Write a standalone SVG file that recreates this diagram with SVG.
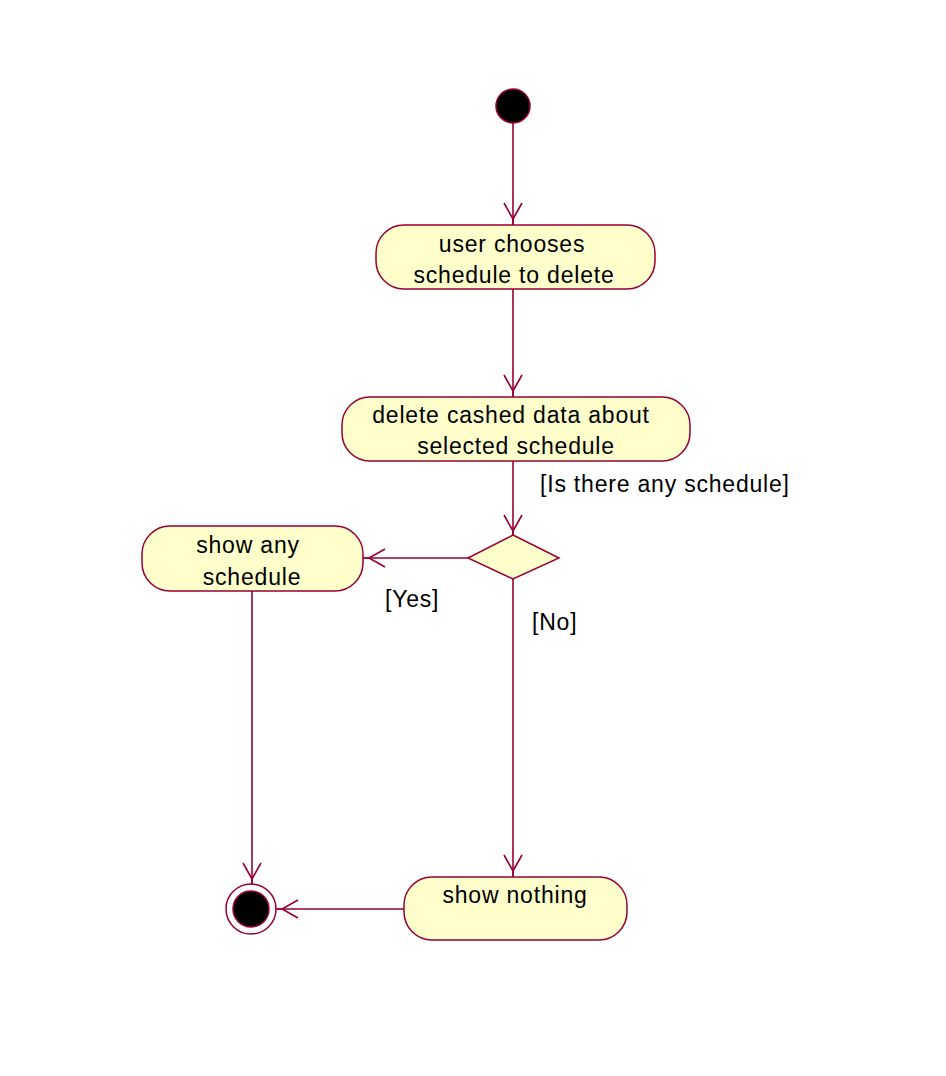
<svg xmlns="http://www.w3.org/2000/svg" width="946" height="1076" viewBox="0 0 946 1076">
<style>
.act{fill:#FFFFCC;stroke:#990033;stroke-width:1.5}
.ln{fill:none;stroke:#990033;stroke-width:1.6}
.t{font-family:"Liberation Sans",Arial,sans-serif;font-size:23px;letter-spacing:0.8px;fill:#000;text-anchor:middle}
.g{font-family:"Liberation Sans",Arial,sans-serif;font-size:23px;letter-spacing:0.8px;fill:#000}
</style>
<defs>
<marker id="arr" markerUnits="userSpaceOnUse" markerWidth="30" markerHeight="30" viewBox="-20 -12 30 24" refX="6" refY="0" orient="auto" overflow="visible">
<path d="M-16,-9 L0,0 L-16,9 M0,0 L6,0" fill="none" stroke="#990033" stroke-width="1.6"/>
</marker>
</defs>
<rect width="946" height="1076" fill="#fff"/>
<g id="connectors">
<line class="ln" x1="513" y1="123" x2="513" y2="225" marker-end="url(#arr)"/>
<line class="ln" x1="513" y1="289" x2="513" y2="397" marker-end="url(#arr)"/>
<line class="ln" x1="513" y1="461" x2="513" y2="537" marker-end="url(#arr)"/>
<line class="ln" x1="468" y1="558" x2="363" y2="558" marker-end="url(#arr)"/>
<line class="ln" x1="513" y1="579" x2="513" y2="877" marker-end="url(#arr)"/>
<line class="ln" x1="252" y1="591" x2="252" y2="885" marker-end="url(#arr)"/>
<line class="ln" x1="404" y1="909" x2="276" y2="909" marker-end="url(#arr)"/>
<text class="g" x="540" y="492">[Is there any schedule]</text>
<text class="g" x="385" y="607">[Yes]</text>
<text class="g" x="532" y="630">[No]</text>
</g>
<g id="start">
<circle cx="513" cy="106" r="17" fill="#000" stroke="#990033" stroke-width="1.5"/>
</g>
<g id="n1">
<rect class="act" x="376" y="225" width="279" height="64" rx="28" ry="28"/>
<text class="t" x="512" y="252">user chooses</text>
<text class="t" x="514" y="283">schedule to delete</text>
</g>
<g id="n2">
<rect class="act" x="342" y="397" width="348" height="64" rx="28" ry="28"/>
<text class="t" x="511" y="423">delete cashed data about</text>
<text class="t" x="516" y="454">selected schedule</text>
</g>
<g id="decision">
<polygon class="act" points="513,535 559,558 513,579 468,558"/>
</g>
<g id="n3">
<rect class="act" x="142" y="526" width="221" height="65" rx="28" ry="28"/>
<text class="t" x="248" y="553">show any</text>
<text class="t" x="252" y="585">schedule</text>
</g>
<g id="n4">
<rect class="act" x="404" y="877" width="223" height="63" rx="28" ry="28"/>
<text class="t" x="515" y="903">show nothing</text>
</g>
<g id="end">
<circle cx="251" cy="909" r="25" fill="#fff" stroke="#990033" stroke-width="1.5"/>
<circle cx="251" cy="909" r="18" fill="#000" stroke="#990033" stroke-width="1.5"/>
</g>
</svg>
